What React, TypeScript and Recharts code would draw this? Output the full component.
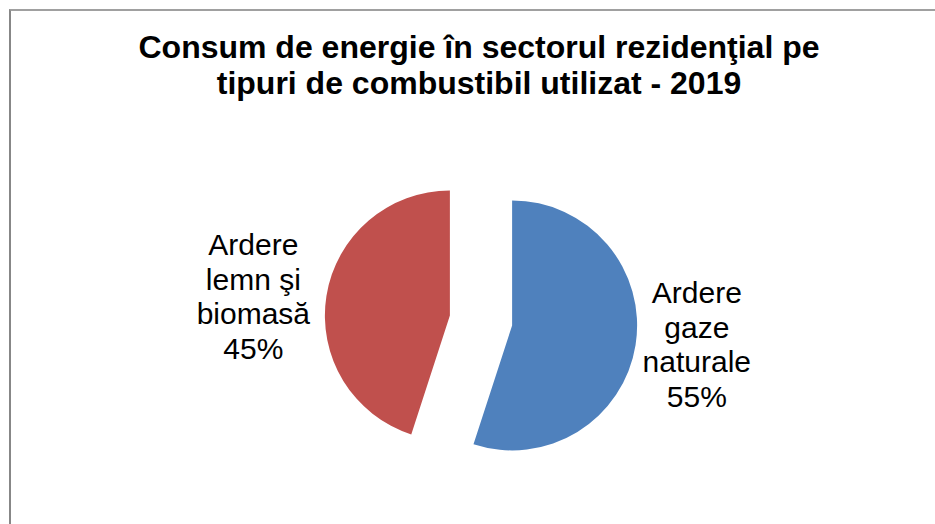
import React from 'react';
import { PieChart, Pie, Cell } from 'recharts';

const CATEGORIES = ['Ardere gaze naturale', 'Ardere lemn şi biomasă'];
const LABEL_LINES = [
  ['Ardere', 'gaze', 'naturale'],
  ['Ardere', 'lemn şi', 'biomasă'],
];
const SHARES = [55, 45];
const COLORS = ['#4F81BD', '#C0504D'];
const TITLE_LINES = ['Consum de energie în sectorul rezidenţial pe', 'tipuri de combustibil utilizat - 2019'];

const W = 935;
const H = 524;
const CX = 476;
const CY = 315.5;
const R = 125;
const EXPLODE = 31.5;
const LABEL_DIST = [187, 199];
const RAD = Math.PI / 180;
const FONT = '"Liberation Sans", Arial, sans-serif';

const data = CATEGORIES.map((name, i) => ({ name, value: SHARES[i] }));
const total = SHARES.reduce((a, b) => a + b, 0);

// mid angle of each slice (recharts degrees: ccw from 3 o'clock, start at 12, clockwise)
const midAngles = SHARES.map((v, i) => {
  const before = SHARES.slice(0, i).reduce((a, b) => a + b, 0);
  return 90 - (360 * (before + v / 2)) / total;
});

const renderLabel = (slice: number) => (props: any) => {
  const { cx, cy, midAngle, index, value } = props;
  if (index !== slice) return null;
  const d = LABEL_DIST[index];
  const x = cx + d * Math.cos(-midAngle * RAD);
  const y0 = cy + 187 * Math.sin(-midAngle * RAD) * 0.65;
  const lines = [...LABEL_LINES[index], `${value}%`];
  const lh = 34.5;
  const first = y0 - ((lines.length - 1) / 2) * lh + 10.5;
  return (
    <text x={x} y={first} textAnchor="middle" fill="#000" fontSize={30} fontFamily={FONT}>
      {lines.map((l, k) => (
        <tspan key={k} x={x} y={first + k * lh}>{l}</tspan>
      ))}
    </text>
  );
};

export default function App() {
  return (
    <div style={{ position: 'absolute', left: 0, top: 0, width: W, height: H, overflow: 'hidden', background: '#fff' }}>
      <div
        style={{
          position: 'absolute',
          left: 9,
          top: 9,
          width: W + 20,
          height: H + 20,
          borderLeft: '2px solid #878787',
          borderTop: '2px solid #a0a0a0',
        }}
      />
      <div
        style={{
          position: 'absolute',
          left: 0,
          top: 29,
          width: 958,
          textAlign: 'center',
          fontFamily: FONT,
          fontWeight: 'bold',
          fontSize: 32,
          lineHeight: '36px',
          color: '#000',
        }}
      >
        {TITLE_LINES.map((t, i) => (
          <div key={i}>{t}</div>
        ))}
      </div>
      <div style={{ position: 'absolute', left: 0, top: 0 }}>
        <PieChart width={W} height={H}>
          {SHARES.map((_, s) => (
            <Pie
              key={s}
              data={data}
              dataKey="value"
              nameKey="name"
              cx={CX + EXPLODE * Math.cos(-midAngles[s] * RAD)}
              cy={CY + EXPLODE * Math.sin(-midAngles[s] * RAD)}
              outerRadius={R}
              startAngle={90}
              endAngle={-270}
              stroke="none"
              labelLine={false}
              label={renderLabel(s)}
              isAnimationActive={false}
            >
              {data.map((d, i) => (
                <Cell key={d.name} fill={i === s ? COLORS[i] : 'transparent'} />
              ))}
            </Pie>
          ))}
        </PieChart>
      </div>
    </div>
  );
}
